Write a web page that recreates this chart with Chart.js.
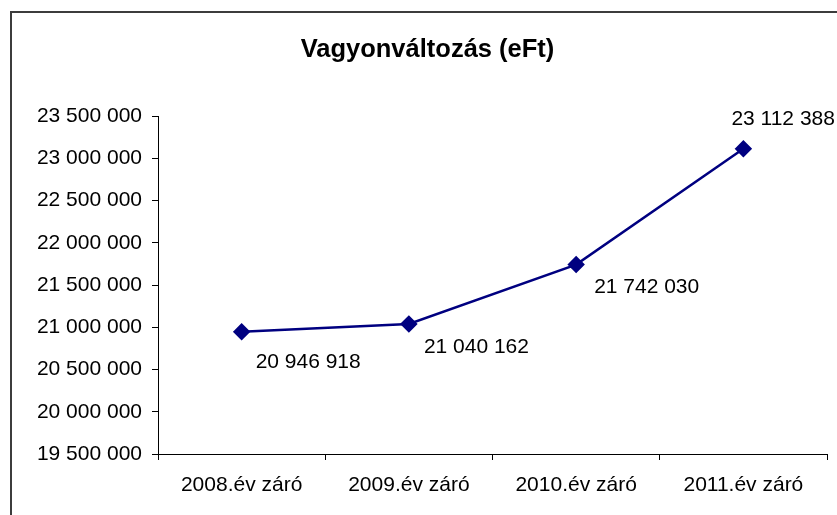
<!DOCTYPE html>
<html>
<head>
<meta charset="utf-8">
<script src="https://cdn.jsdelivr.net/npm/chart.js@4/dist/chart.umd.min.js"></script>
<style>
  html, body { margin: 0; padding: 0; background: #fff; overflow: hidden; }
  #wrap { width: 837px; height: 515px; position: relative; }
</style>
</head>
<body>
<div id="wrap"><canvas id="Vagyon"></canvas></div>
<script>
const categories = ["2008.év záró", "2009.év záró", "2010.év záró", "2011.év záró"];
const vagyon = [20946918, 21040162, 21742030, 23112388];
const yMin = 19500000;
const yMax = 23500000;
const yStep = 500000;

// where each value label sits relative to its point (px)
const labelOffsets = [[14, 30], [15, 23], [18, 23], [-12, -30]];

function huFormat(v) {
  return String(Math.round(v)).replace(/\B(?=(\d{3})+(?!\d))/g, " ");
}

const frame = {
  id: "frame",
  beforeDraw(chart) {
    const c = chart.ctx;
    c.save();
    c.fillStyle = "#fff";
    c.fillRect(0, 0, chart.width, chart.height);
    c.strokeStyle = "#3c3c3c";
    c.lineWidth = 2;
    c.strokeRect(11, 12, 1000, 1000);
    c.restore();
  }
};

const valueLabels = {
  id: "valueLabels",
  afterDatasetsDraw(chart) {
    const c = chart.ctx;
    const meta = chart.getDatasetMeta(0);
    c.save();
    c.font = "21px 'Liberation Sans', Arial, sans-serif";
    c.fillStyle = "#000";
    c.textAlign = "left";
    c.textBaseline = "middle";
    meta.data.forEach((pt, i) => {
      const off = labelOffsets[i];
      c.fillText(huFormat(vagyon[i]), pt.x + off[0], pt.y + off[1]);
    });
    c.restore();
  }
};

showChart_Vagyon();

function showChart_Vagyon() {
  const ctx = document.getElementById("Vagyon");
  new Chart(ctx, {
    type: "line",
    data: {
      labels: categories,
      datasets: [
        {
          label: "Vagyon",
          data: vagyon,
          borderColor: "#000080",
          backgroundColor: "#000080",
          borderWidth: 2.5,
          pointStyle: "rectRot",
          pointRadius: 7,
          pointHoverRadius: 7,
          tension: 0,
        },
      ],
    },
    options: {
      responsive: true,
      maintainAspectRatio: false,
      animation: false,
      layout: {
        padding: { left: 28, right: 10, top: 12, bottom: 0 },
      },
      plugins: {
        title: {
          display: true,
          text: "Vagyonváltozás (eFt)",
          color: "#000",
          font: { family: "'Liberation Sans', Arial, sans-serif", size: 25.5, weight: "bold" },
          padding: { top: 22.5, bottom: 51 },
        },
        legend: { display: false },
        tooltip: { enabled: false },
      },
      scales: {
        x: {
          offset: true,
          grid: {
            offset: true,
            drawOnChartArea: false,
            tickLength: 6,
            color: "#000",
          },
          border: { color: "#000", width: 1 },
          ticks: {
            color: "#000",
            padding: 13,
            maxRotation: 0,
            font: { family: "'Liberation Sans', Arial, sans-serif", size: 21 },
          },
          afterFit(scale) { scale.height = 61; },
        },
        y: {
          min: yMin,
          max: yMax,
          grid: {
            drawOnChartArea: false,
            tickLength: 6,
            color: "#000",
          },
          border: { color: "#000", width: 1 },
          ticks: {
            stepSize: yStep,
            color: "#000",
            padding: 10,
            font: { family: "'Liberation Sans', Arial, sans-serif", size: 21 },
            callback: (v) => huFormat(v),
          },
          afterFit(scale) { scale.width = 130; },
        },
      },
    },
    plugins: [frame, valueLabels],
  });
}
</script>
</body>
</html>
